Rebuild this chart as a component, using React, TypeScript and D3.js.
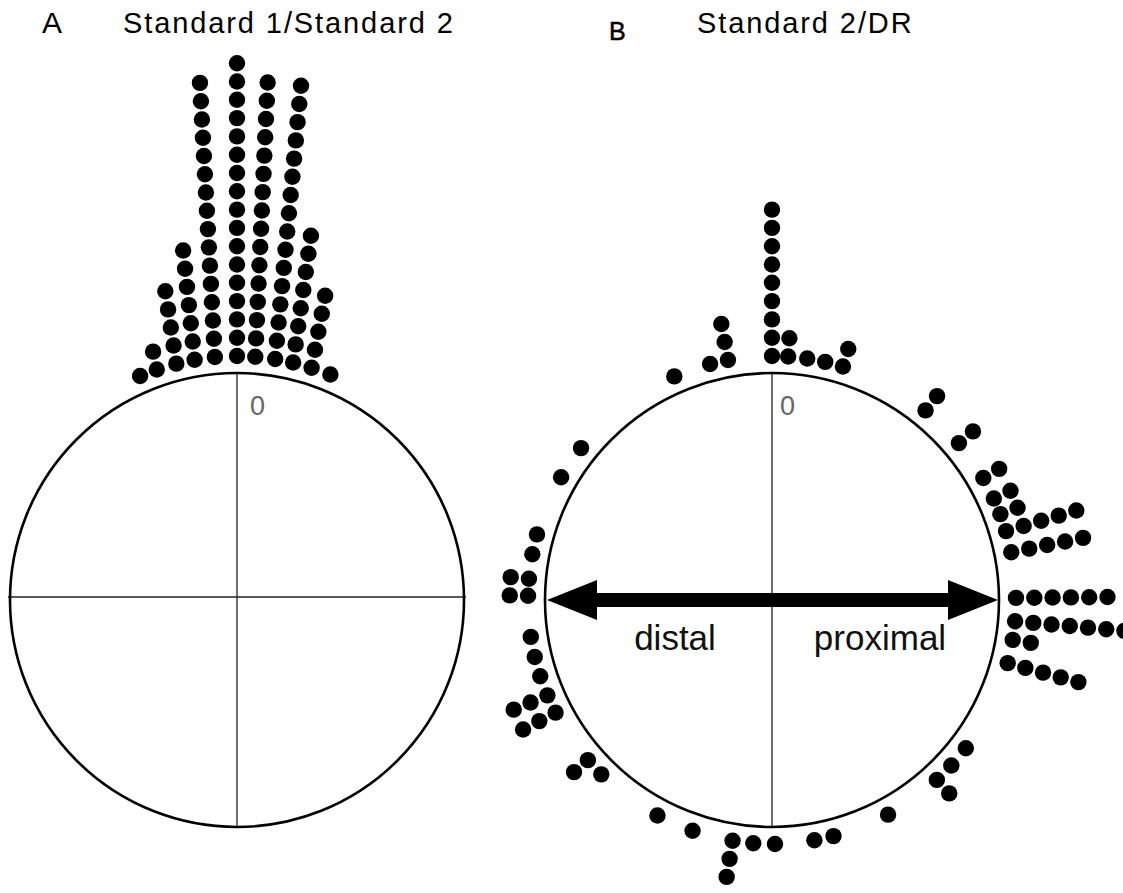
import React from "react";
import * as d3 from "d3";

// Panel A: Standard 1/Standard 2 — bin angles (deg, clockwise from 0 at top) and dot counts
const anglesA = [-23.4, -19.2, -14.4, -10, -5.2, 0, 4.3, 9, 13.3, 17.8, 22.5];
const countsA = [1, 2, 5, 7, 16, 17, 16, 16, 8, 5, 1];

// Panel B: Standard 2/DR
const anglesB = [
  -23.6, -14.7, -10.4, 0, 3.8, 8.3, 12.6, 16.9, 39, 50, 60, 65.4, 69.4, 73.6, 78.7,
  89.5, 95, 99.4, 105, 127.4, 132.7, 137.5, 151.6, 165.4, 170, 179.3, 184.4, 189.3,
  199, 208, 224.4, 229, 242.5, 247, 251.8, 256.5, 261.3, 271, 275, 280.8, 285.6,
  300.2, 308.5,
];
const countsB = [
  1, 1, 3, 9, 2, 1, 1, 2, 2, 2, 2, 2, 2, 5, 5,
  6, 7, 2, 5, 1, 1, 2, 1, 1, 1, 1, 1, 3,
  1, 1, 1, 2, 3, 3, 1, 1, 1, 2, 2, 1, 1,
  1, 1,
];

const titles = ["Standard 1/Standard 2", "Standard 2/DR"];
const panelLetters = ["A", "B"];
const zeroLabel = "0";
const directionLabels = ["distal", "proximal"];

const W = 1123;
const H = 893;
const R = 227;
const STEP = 18.3;
const DOT_R = 8.2;
const FONT = "'Liberation Sans', Arial, Helvetica, sans-serif";

const rad = d3.scaleLinear().domain([0, 360]).range([0, 2 * Math.PI]);
const stackDist = d3.scaleLinear().domain([0, 1]).range([R + 17, R + 17 + STEP]);

type Dot = { x: number; y: number; key: string };

function makeDots(
  angles: number[],
  counts: number[],
  cx: number,
  cy: number,
  tilt: number
): Dot[] {
  const out: Dot[] = [];
  angles.forEach((a, i) => {
    const t = rad(a);
    const phi = rad(a * tilt);
    const r0 = stackDist(0);
    const bx = cx + r0 * Math.sin(t);
    const by = cy - r0 * Math.cos(t);
    for (let k = 0; k < counts[i]; k++) {
      const d = stackDist(k) - r0;
      out.push({
        x: bx + d * Math.sin(phi),
        y: by - d * Math.cos(phi),
        key: `${i}-${k}`,
      });
    }
  });
  return out;
}

export default function App() {
  const cxA = 237;
  const cyA = 600;
  const cxB = 772;
  const cyB = 600;
  const dotsA = makeDots(anglesA, countsA, cxA, cyA, 0.6);
  const dotsB = makeDots(anglesB, countsB, cxB, cyB, 1.0);

  const shaftH = 14;
  const headL = 50;
  const headH = 20;
  const xL = cxB - R + 2;
  const xR = cxB + R - 1;
  const arrowPath = d3.path();
  arrowPath.moveTo(xL, cyB);
  arrowPath.lineTo(xL + headL, cyB - headH);
  arrowPath.lineTo(xL + headL, cyB - shaftH / 2);
  arrowPath.lineTo(xR - headL, cyB - shaftH / 2);
  arrowPath.lineTo(xR - headL, cyB - headH);
  arrowPath.lineTo(xR, cyB);
  arrowPath.lineTo(xR - headL, cyB + headH);
  arrowPath.lineTo(xR - headL, cyB + shaftH / 2);
  arrowPath.lineTo(xL + headL, cyB + shaftH / 2);
  arrowPath.lineTo(xL + headL, cyB + headH);
  arrowPath.closePath();

  return (
    <svg
      width={W}
      height={H}
      style={{ position: "absolute", left: 0, top: 0, background: "#fff" }}
      fontFamily={FONT}
    >
      <rect x={0} y={0} width={W} height={H} fill="#fff" />
      {/* Titles */}
      <text x={42} y={33} fontSize={30} fill="#000">{panelLetters[0]}</text>
      <text x={123} y={33} fontSize={29} letterSpacing={1.9} fill="#000">{titles[0]}</text>
      <text x={609} y={40} fontSize={25} stroke="#000" strokeWidth={0.5} fill="#000">{panelLetters[1]}</text>
      <text x={697} y={33} fontSize={29} letterSpacing={1.9} fill="#000">{titles[1]}</text>

      {/* Panel A */}
      <line x1={cxA - R - 2} x2={cxA + R + 2} y1={cyA - 3} y2={cyA - 3} stroke="#222" strokeWidth={1.3} />
      <line x1={cxA} x2={cxA} y1={cyA - R} y2={cyA + R} stroke="#222" strokeWidth={1.3} />
      <circle cx={cxA} cy={cyA} r={R} fill="none" stroke="#000" strokeWidth={2.6} />
      <text x={cxA + 13} y={cyA - R + 42} fontSize={27} fill="#666">{zeroLabel}</text>
      {dotsA.map((d) => (
        <circle key={d.key} cx={d.x} cy={d.y} r={DOT_R} fill="#000" />
      ))}

      {/* Panel B */}
      <line x1={cxB} x2={cxB} y1={cyB - R} y2={cyB + R} stroke="#222" strokeWidth={1.3} />
      <circle cx={cxB} cy={cyB} r={R} fill="none" stroke="#000" strokeWidth={2.6} />
      <path d={arrowPath.toString()} fill="#000" />
      <text x={cxB + 8} y={cyB - R + 42} fontSize={27} fill="#666">{zeroLabel}</text>
      <text x={675} y={650} fontSize={35} textAnchor="middle" fill="#111">{directionLabels[0]}</text>
      <text x={880} y={650} fontSize={35} textAnchor="middle" fill="#111">{directionLabels[1]}</text>
      {dotsB.map((d) => (
        <circle key={d.key} cx={d.x} cy={d.y} r={DOT_R} fill="#000" />
      ))}
    </svg>
  );
}
